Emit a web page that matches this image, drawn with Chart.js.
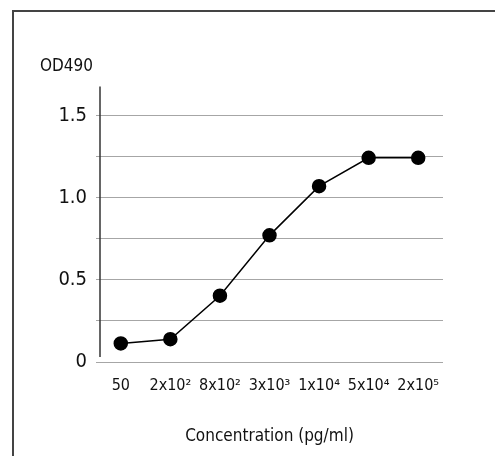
<!DOCTYPE html>
<html>
<head>
<meta charset="utf-8">
<script src="https://cdn.jsdelivr.net/npm/chart.js@4"></script>
<style>
  html, body { margin: 0; padding: 0; background: #fff; }
  #wrap { position: relative; width: 495px; height: 456px; overflow: hidden; }
  #frame { position: absolute; left: 12px; top: 10px; width: 600px; height: 600px; border: 2px solid #444; }
  canvas { position: absolute; left: 0; top: 0; }
</style>
</head>
<body>
<div id="wrap">
  <div id="frame"></div>
  <canvas id="chart" width="495" height="456"></canvas>
</div>
<script>
// --- Data ---
const concentrations = ["50", "2x10²", "8x10²", "3x10³", "1x10⁴", "5x10⁴", "2x10⁵"];
const od490 = [0.113, 0.139, 0.404, 0.772, 1.072, 1.245, 1.245];
const yTickLabels = [0, 0.5, 1.0, 1.5];

const FONT = "'Liberation Sans Narrow', 'DejaVu Sans Condensed', sans-serif";

// draws the vertical value axis line a bit inside the plot, like the original
const axisLine = {
	id: "axisLine",
	afterDraw(chart) {
		const { ctx, chartArea } = chart;
		ctx.save();
		ctx.strokeStyle = "#333";
		ctx.lineWidth = 1.5;
		ctx.beginPath();
		ctx.moveTo(chartArea.left + 4, chartArea.top);
		ctx.lineTo(chartArea.left + 4, chartArea.bottom - 5);
		ctx.stroke();
		ctx.restore();
	},
};

new Chart(document.getElementById("chart").getContext("2d"), {
	type: "line",
	data: {
		labels: concentrations,
		datasets: [
			{
				data: od490,
				borderColor: "#000",
				borderWidth: 1.5,
				backgroundColor: "#000",
				pointRadius: 6.5,
				pointHoverRadius: 6.5,
				tension: 0,
			},
		],
	},
	options: {
		responsive: false,
		animation: false,
		layout: { padding: { left: 40, top: 56, right: 52, bottom: 0 } },
		plugins: {
			legend: { display: false },
			tooltip: { enabled: false },
			title: {
				display: true,
				text: "OD490",
				align: "start",
				color: "#111",
				font: { family: FONT, size: 17, weight: "normal" },
				padding: { top: 0, bottom: 10 },
			},
		},
		scales: {
			x: {
				offset: true,
				grid: { display: false },
				border: { display: false },
				ticks: {
					color: "#111",
					padding: 6,
					maxRotation: 0,
					autoSkip: false,
					font: { family: FONT, size: 16 },
				},
				title: {
					display: true,
					text: "Concentration (pg/ml)",
					color: "#111",
					font: { family: FONT, size: 17 },
					padding: { top: 0, bottom: 9 },
				},
				afterFit: (scale) => {
					scale.height = 94;
				},
			},
			y: {
				min: 0,
				max: 1.68,
				grid: { color: "#a6a6a6", lineWidth: 1, drawTicks: false },
				border: { display: false },
				ticks: {
					stepSize: 0.25,
					includeBounds: false,
					padding: 9,
					color: "#111",
					font: { family: FONT, size: 20 },
					callback: (v) => {
						const t = yTickLabels.find((l) => Math.abs(l - v) < 1e-9);
						if (t === undefined) return "";
						return t === 0 ? "0" : t.toFixed(1);
					},
				},
				afterFit: (scale) => {
					scale.width = 56;
				},
			},
		},
	},
	plugins: [axisLine],
});
</script>
</body>
</html>
